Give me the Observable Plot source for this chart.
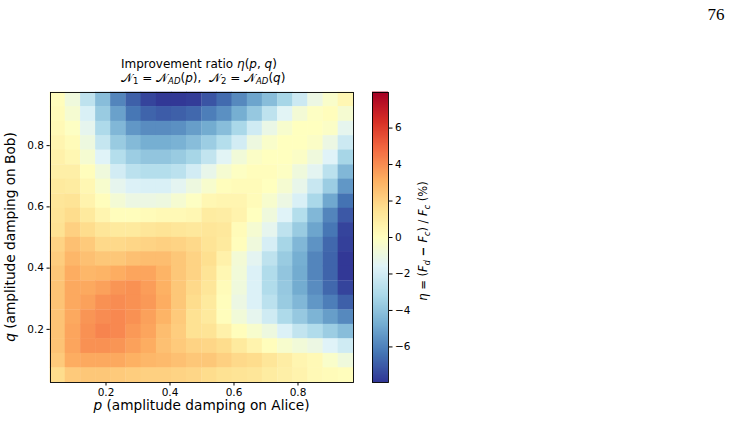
<!DOCTYPE html>
<html>
<head>
<meta charset="utf-8">
<script src="https://cdn.jsdelivr.net/npm/d3@7"></script>
<script src="https://cdn.jsdelivr.net/npm/@observablehq/plot@0.6"></script>
<style>
  html, body { margin: 0; padding: 0; background: #fff; }
  #fig { position: relative; width: 731px; height: 425px; background: #fff; overflow: hidden; }
  #fig > svg, #fig > figure { position: absolute; top: 0; margin: 0; }
  #notes { left: 0; pointer-events: none; }
  #notes text { font-family: "DejaVu Sans", sans-serif; fill: #000; }
</style>
</head>
<body>
<div id="fig"></div>
<script>
// Damping parameter grid (cell centres) for Alice (p) and Bob (q).
const pValues = [0.050, 0.097, 0.145, 0.192, 0.239, 0.287, 0.334, 0.382, 0.429, 0.476,
                 0.524, 0.571, 0.618, 0.666, 0.713, 0.761, 0.808, 0.855, 0.903, 0.950];
// q listed from the top row (largest damping) down to the bottom row.
const qValues = [0.950, 0.903, 0.855, 0.808, 0.761, 0.713, 0.666, 0.618, 0.571, 0.524,
                 0.476, 0.429, 0.382, 0.334, 0.287, 0.239, 0.192, 0.145, 0.097, 0.050];

// Improvement ratio eta (%) — one row per q value, columns follow pValues.
const etaRows = [
  [ 0.1, -0.8, -2.6, -4.2, -5.9, -6.9, -7.6, -7.9, -7.9, -7.8, -7.2, -6.6, -5.8, -5.0, -4.2, -3.3, -2.2, -1.0, -0.3,  0.4],
  [ 0.2, -0.5, -1.8, -3.7, -5.1, -6.3, -6.8, -7.0, -6.9, -6.7, -6.1, -5.6, -4.7, -3.8, -2.6, -1.5, -0.6, -0.1,  0.1, -0.5],
  [ 0.3, -0.1, -1.3, -3.1, -4.4, -5.4, -5.7, -5.7, -5.6, -5.2, -4.8, -4.2, -3.2, -2.1, -1.1, -0.4,  0.0,  0.0, -0.2, -1.3],
  [ 0.5,  0.2, -0.9, -2.4, -3.7, -4.3, -4.7, -4.7, -4.6, -4.2, -3.6, -2.9, -2.0, -0.9, -0.3,  0.0,  0.0, -0.2, -1.0, -2.2],
  [ 0.7,  0.4, -0.5, -1.6, -2.9, -3.6, -3.9, -3.9, -3.7, -3.3, -2.5, -1.5, -0.7, -0.2,  0.0,  0.0, -0.2, -0.8, -1.6, -3.3],
  [ 0.8,  0.8,  0.1, -0.8, -2.0, -2.7, -2.9, -2.9, -2.7, -2.0, -1.2, -0.5, -0.1,  0.1,  0.1, -0.1, -0.8, -1.4, -2.7, -4.4],
  [ 1.1,  1.0,  0.4, -0.4, -1.3, -1.7, -1.8, -1.8, -1.4, -0.9, -0.4,  0.1,  0.2,  0.2,  0.0, -0.5, -1.2, -2.3, -3.6, -5.4],
  [ 1.3,  1.4,  0.6,  0.1, -0.6, -1.0, -1.0, -0.9, -0.5, -0.1,  0.4,  0.5,  0.5,  0.2, -0.4, -1.0, -1.8, -3.2, -4.9, -6.4],
  [ 1.4,  1.7,  1.1,  0.5,  0.1,  0.1,  0.2,  0.3,  0.3,  0.4,  1.0,  0.9,  0.6,  0.0, -0.8, -1.6, -2.9, -4.4, -5.9, -7.1],
  [ 1.5,  2.1,  1.7,  1.3,  1.1,  1.1,  1.3,  1.4,  1.3,  1.2,  1.3,  1.2,  0.2, -0.5, -1.3, -2.6, -3.7, -5.0, -6.3, -7.6],
  [ 2.0,  2.6,  2.3,  1.8,  1.8,  1.9,  2.0,  2.1,  2.0,  1.8,  1.4,  1.1,  0.1, -0.8, -1.9, -3.3, -4.4, -5.5, -6.7, -7.7],
  [ 2.2,  2.9,  2.6,  2.4,  2.4,  2.6,  2.7,  2.7,  2.4,  2.0,  1.6,  0.7, -0.6, -1.4, -2.6, -3.7, -4.7, -5.9, -6.8, -7.9],
  [ 2.4,  3.2,  2.9,  3.0,  3.2,  3.4,  3.4,  3.0,  2.4,  2.0,  1.4,  0.4, -0.7, -1.7, -3.0, -3.9, -4.8, -5.9, -6.8, -7.9],
  [ 2.5,  3.3,  3.3,  3.5,  3.8,  3.9,  3.6,  3.1,  2.4,  1.8,  1.3,  0.2, -0.8, -1.7, -3.0, -3.8, -4.8, -5.7, -6.7, -7.6],
  [ 2.5,  3.3,  3.5,  3.9,  4.0,  3.9,  3.7,  3.2,  2.4,  1.7,  1.1,  0.1, -1.0, -1.7, -2.7, -3.7, -4.4, -5.4, -6.1, -6.9],
  [ 2.5,  3.3,  3.8,  4.0,  4.1,  3.9,  3.5,  3.0,  2.3,  1.5,  1.1,  0.1, -0.7, -1.3, -2.1, -3.1, -3.8, -4.5, -5.2, -5.8],
  [ 2.5,  3.4,  3.9,  4.2,  4.1,  3.7,  3.4,  2.7,  2.2,  1.5,  1.4,  0.7,  0.1, -0.4, -0.9, -1.7, -2.5, -3.0, -3.6, -4.2],
  [ 2.5,  3.4,  3.9,  3.9,  3.8,  3.5,  3.2,  2.6,  2.3,  2.0,  1.9,  1.7,  1.1,  0.6,  0.1, -0.4, -0.7, -1.0, -1.6, -2.1],
  [ 2.3,  3.2,  3.3,  3.3,  3.3,  3.1,  2.9,  2.8,  2.6,  2.4,  2.4,  2.1,  1.8,  1.7,  1.3,  0.9,  0.5,  0.3, -0.3, -0.8],
  [ 1.7,  2.3,  2.4,  2.4,  2.3,  2.2,  2.1,  2.1,  2.0,  1.9,  1.7,  1.5,  1.4,  1.3,  1.0,  0.8,  0.6,  0.3,  0.2,  0.1]
];

const axisTicks = [0.2, 0.4, 0.6, 0.8];
const colorbarTicks = [-6, -4, -2, 0, 2, 4, 6];
const etaLimit = 7.95; // symmetric colour range

// Diverging palette, red (high) to blue (low), interpolated linearly.
const rdylbuR = ["#313695", "#4575b4", "#74add1", "#abd9e9", "#e0f3f8", "#ffffbf",
                 "#fee090", "#fdae61", "#f46d43", "#d73027", "#a50026"];
const colorScale = {
  type: "linear",
  domain: [-etaLimit, etaLimit],
  interpolate: d3.piecewise(d3.interpolateRgb, rdylbuR)
};

const half = (pValues[1] - pValues[0]) / 2;
const cells = etaRows.flatMap((row, r) =>
  row.map((eta, c) => ({p: pValues[c], q: qValues[r], eta}))
);

const minus = d => (d < 0 ? "\u2212" + Math.abs(d) : String(d));
const baseStyle = {
  fontFamily: "DejaVu Sans, sans-serif",
  fontSize: "10.5px",
  color: "#000",
  background: "transparent",
  overflow: "visible"
};

const heatmap = Plot.plot({
  width: 380,
  height: 425,
  marginLeft: 50,
  marginRight: 27,
  marginTop: 92,
  marginBottom: 43,
  style: baseStyle,
  x: {domain: [pValues[0] - half, pValues[pValues.length - 1] + half],
      ticks: axisTicks, tickSize: 3.5, tickPadding: 3, tickFormat: ".1f", label: null},
  y: {domain: [pValues[0] - half, pValues[pValues.length - 1] + half],
      ticks: axisTicks, tickSize: 3.5, tickPadding: 3, tickFormat: ".1f", label: null},
  color: colorScale,
  marks: [
    Plot.rect(cells, {
      x1: d => d.p - half, x2: d => d.p + half,
      y1: d => d.q - half, y2: d => d.q + half,
      fill: "eta", inset: -0.3
    }),
    Plot.frame({stroke: "#000", strokeWidth: 0.9})
  ]
});
heatmap.style.left = "0px";

// Colour bar: thin slices of the same colour scale.
const steps = 290;
const sliceH = (2 * etaLimit) / steps;
const levels = d3.range(steps).map(i => -etaLimit + i * sliceH);

const colorbar = Plot.plot({
  width: 70,
  height: 425,
  marginLeft: 12,
  marginRight: 42,
  marginTop: 92,
  marginBottom: 43,
  style: baseStyle,
  x: {domain: [0, 1], axis: null},
  y: {domain: [-etaLimit, etaLimit], axis: "right", ticks: colorbarTicks,
      tickSize: 3.5, tickPadding: 3, tickFormat: minus, label: null},
  color: colorScale,
  marks: [
    Plot.rect(levels, {
      x1: () => 0, x2: () => 1,
      y1: d => d, y2: d => d + sliceH,
      fill: d => d + sliceH / 2, insetTop: -0.4, insetBottom: -0.4
    }),
    Plot.frame({stroke: "#000", strokeWidth: 0.9})
  ]
});
colorbar.style.left = "360px";

const fig = document.getElementById("fig");
fig.appendChild(heatmap);
fig.appendChild(colorbar);

// Titles, axis labels and page number.
const ns = "http://www.w3.org/2000/svg";
const notes = document.createElementNS(ns, "svg");
notes.setAttribute("id", "notes");
notes.setAttribute("width", 731);
notes.setAttribute("height", 425);
notes.innerHTML = `
  <text x="716" y="20" text-anchor="middle" style="font-family:'Liberation Serif',serif;font-size:17px">76</text>
  <text x="121" y="68" style="font-size:12px">Improvement ratio <tspan font-style="italic">η</tspan>(<tspan font-style="italic">p</tspan>, <tspan font-style="italic">q</tspan>)</text>
  <text x="121" y="82" style="font-size:12px" xml:space="preserve">𝒩<tspan dy="2" font-size="8.5">1</tspan><tspan dy="-2"> = 𝒩</tspan><tspan dy="2" font-size="8.5" font-style="italic">AD</tspan><tspan dy="-2">(</tspan><tspan font-style="italic">p</tspan>),  𝒩<tspan dy="2" font-size="8.5">2</tspan><tspan dy="-2"> = 𝒩</tspan><tspan dy="2" font-size="8.5" font-style="italic">AD</tspan><tspan dy="-2">(</tspan><tspan font-style="italic">q</tspan>)</text>
  <text x="201.5" y="410" text-anchor="middle" style="font-size:13.7px"><tspan font-style="italic">p</tspan> (amplitude damping on Alice)</text>
  <text transform="translate(15,237) rotate(-90)" text-anchor="middle" style="font-size:13.7px"><tspan font-style="italic">q</tspan> (amplitude damping on Bob)</text>
  <text transform="translate(427,241) rotate(-90)" text-anchor="middle" style="font-size:11.5px"><tspan font-style="italic">η</tspan> = (<tspan font-style="italic">F</tspan><tspan dy="2.5" font-size="8" font-style="italic">d</tspan><tspan dy="-2.5" font-weight="bold"> − </tspan><tspan font-style="italic">F</tspan><tspan dy="2.5" font-size="8" font-style="italic">c</tspan><tspan dy="-2.5">) / </tspan><tspan font-style="italic">F</tspan><tspan dy="2.5" font-size="8" font-style="italic">c</tspan><tspan dy="-2.5"> (%)</tspan></text>
`;
fig.appendChild(notes);
</script>
</body>
</html>
